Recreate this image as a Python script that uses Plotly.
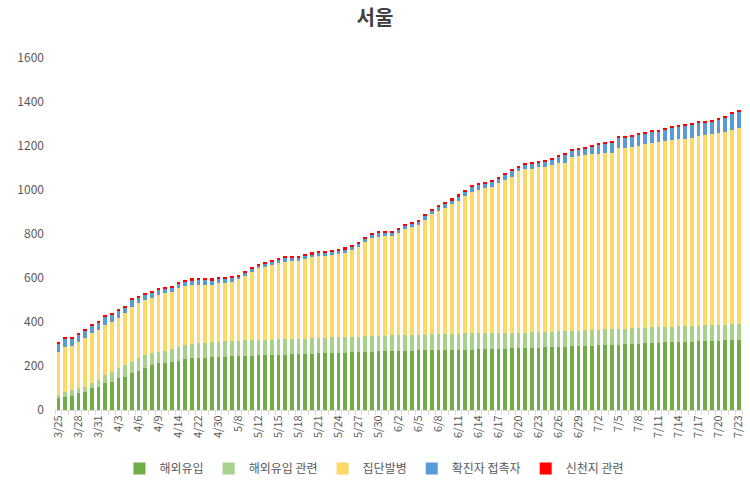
import plotly.graph_objects as go

dates = ["3/25","3/26","3/27","3/28","3/29","3/30","3/31","4/1","4/2","4/3","4/4","4/5","4/6","4/7","4/8","4/9",
         "4/10","4/13","4/14","4/16","4/20","4/22","4/24","4/27","4/30","5/4","5/6","5/8","5/10","5/11",
         "5/12","5/13","5/14","5/15","5/16","5/17","5/18","5/19","5/20","5/21","5/22","5/23","5/24","5/25","5/26",
         "5/27","5/28","5/29","5/30","5/31","6/1","6/2","6/3","6/4","6/5","6/6","6/7","6/8","6/9","6/10",
         "6/11","6/12","6/13","6/14","6/15","6/16","6/17","6/18","6/19","6/20","6/21","6/22","6/23","6/24","6/25",
         "6/26","6/27","6/28","6/29","6/30","7/1","7/2","7/3","7/4","7/5","7/6","7/7","7/8","7/9","7/10",
         "7/11","7/12","7/13","7/14","7/15","7/16","7/17","7/18","7/19","7/20","7/21","7/22","7/23"]

tick_labels = ["3/25","3/28","3/31","4/3","4/6","4/9","4/14","4/22","4/30","5/8","5/12","5/15","5/18","5/21",
               "5/24","5/27","5/30","6/2","6/5","6/8","6/11","6/14","6/17","6/20","6/23","6/26","6/29","7/2",
               "7/5","7/8","7/11","7/14","7/17","7/20","7/23"]

overseas = [53,60,64,76,83,98,106,121,129,144,152,167,179,189,205,212,
            214,216,224,230,235,236,238,240,242,243,244,245,246,247,
            248,249,250,251,252,253,254,255,256,257,258,259,260,261,262,
            263,264,265,266,267,268,269,270,270,271,271,272,272,273,273,
            274,275,275,276,276,277,278,279,280,281,282,283,284,285,286,
            287,288,290,291,292,293,294,295,296,297,298,300,302,304,305,
            306,307,308,309,310,311,312,313,314,315,316,318,320]

overseas_rel = [15,23,27,22,23,23,30,38,45,45,53,53,56,61,53,53,
                56,60,64,65,65,67,68,68,69,69,69,69,70,70,
                70,70,70,70,70,70,70,70,70,70,70,71,71,71,71,
                71,71,71,71,71,71,71,71,72,72,72,72,72,72,72,
                72,73,73,73,73,73,73,70,70,70,70,70,70,70,70,
                70,70,70,70,70,70,71,71,71,71,71,71,71,71,71,
                71,71,71,72,72,72,72,72,72,72,72,72,72]

cluster = [197,205,200,213,220,231,228,227,228,228,234,250,250,250,250,258,
           260,262,265,269,268,265,262,262,265,266,270,280,293,309,
           326,333,339,349,352,356,355,360,368,373,372,373,378,383,394,
           405,427,444,451,452,451,463,480,491,498,521,547,561,572,593,
           604,625,644,653,659,663,679,696,711,734,742,743,749,751,757,
           764,767,788,795,797,799,799,801,803,821,820,823,827,833,836,
           841,843,848,851,852,854,861,865,867,871,876,883,891]

contact = [37,35,36,31,35,31,32,38,34,35,28,32,27,24,24,23,
           21,19,20,19,21,22,22,20,20,18,17,14,17,18,
           14,16,17,13,17,16,15,16,14,14,14,16,15,14,15,
           17,17,18,18,18,19,17,18,16,17,19,16,21,22,16,
           22,21,23,24,22,24,24,27,26,18,21,24,23,24,25,
           32,35,31,27,30,35,41,44,48,50,50,50,50,47,52,
           49,52,55,57,58,62,60,59,59,62,66,75,74]

shincheonji = [8,6,6,6,6,6,6,6,6,6,6,6,6,6,6,7,
               7,7,10,8,9,10,10,8,7,7,6,6,6,8,
               6,6,6,6,6,7,6,7,9,10,9,8,9,10,8,
               6,6,8,8,7,6,6,6,6,6,6,7,6,6,8,
               8,6,6,7,8,8,7,7,7,6,6,6,6,6,6,
               6,7,6,6,6,6,7,6,6,6,6,6,8,7,6,
               6,6,7,6,6,7,6,6,6,6,6,7,7]

series = [
    ("해외유입", overseas, "#70AD47"),
    ("해외유입 관련", overseas_rel, "#A9D18E"),
    ("집단발병", cluster, "#FFD966"),
    ("확진자 접촉자", contact, "#5B9BD5"),
    ("신천지 관련", shincheonji, "#FF0000"),
]

FONT = "Noto Sans CJK KR, Noto Sans, sans-serif"

fig = go.Figure()
for name, vals, color in series:
    fig.add_trace(go.Bar(x=dates, y=vals, name=name, marker=dict(color=color, line=dict(width=0))))

ticktext = [d if d in tick_labels else "" for d in dates]

fig.update_layout(
    barmode="stack",
    bargap=0.45,
    width=750, height=486,
    margin=dict(l=55, r=8, t=58, b=76, autoexpand=False),
    paper_bgcolor="white", plot_bgcolor="white",
    font=dict(family=FONT, color="#595959", size=12),
    title=dict(text="<b>서울</b>", x=0.5, xanchor="center", y=0.963, yanchor="middle",
               font=dict(family=FONT, size=20, color="#404040")),
    showlegend=True,
    legend=dict(orientation="h", x=0.465, xanchor="center", y=-0.125, yanchor="top",
                font=dict(family=FONT, size=12, color="#595959"), traceorder="normal",
                itemwidth=30, tracegroupgap=0),
    xaxis=dict(type="category", tickmode="array", tickvals=dates, ticktext=ticktext,
               tickangle=-90, tickfont=dict(size=11, color="#595959"),
               showline=True, linecolor="#D9D9D9", linewidth=1,
               ticks="outside", ticklen=4, tickcolor="#D9D9D9", tickson="boundaries",
               showgrid=False),
    yaxis=dict(range=[0, 1600], dtick=200, showgrid=False, showline=False, zeroline=False,
               tickfont=dict(size=12, color="#595959"), ticks="", ticklabelstandoff=10),
)

fig.write_html("out.html")
